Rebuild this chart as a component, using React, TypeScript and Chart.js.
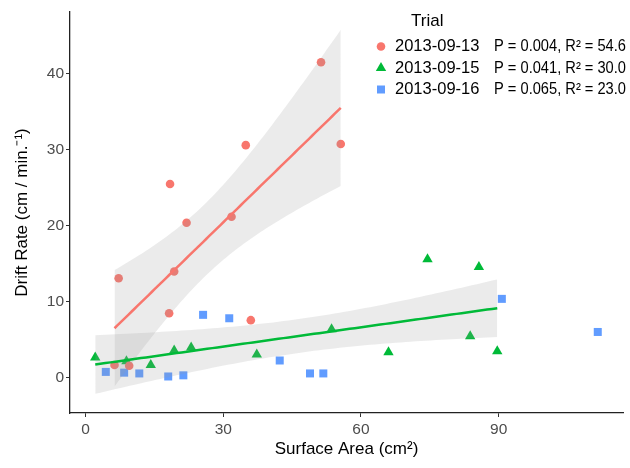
import React, { useEffect, useRef } from "react";
import { Chart, registerables } from "chart.js";

Chart.register(...registerables);

// ---- Data ----
const seriesNames = ["2013-09-13", "2013-09-15", "2013-09-16"];
const seriesStats = ["P = 0.004, R² = 54.6", "P = 0.041, R² = 30.0", "P = 0.065, R² = 23.0"];
const seriesColors = ["#F8766D", "#00BA38", "#619CFF"];
const seriesShapes = ["circle", "triangle", "rect"];
const seriesFitted = [true, true, false];

const area13 = [51.3, 55.6, 34.9, 18.4, 22.0, 31.8, 7.2, 19.3, 18.2, 36.0, 6.3, 9.5];
const rate13 = [41.5, 30.75, 30.6, 25.5, 20.4, 21.2, 13.1, 14.0, 8.5, 7.6, 1.7, 1.6];

const area15 = [2.1, 8.9, 14.2, 19.3, 23.0, 37.3, 53.6, 74.5, 85.7, 66.0, 83.8, 89.7];
const rate15 = [2.7, 2.2, 1.7, 3.6, 4.0, 3.1, 6.4, 15.6, 14.6, 3.4, 5.5, 3.5];

const area16 = [4.4, 8.4, 11.7, 18.0, 21.3, 25.6, 31.3, 42.3, 48.9, 51.8, 90.7, 111.6];
const rate16 = [0.8, 0.7, 0.6, 0.2, 0.35, 8.3, 7.85, 2.3, 0.6, 0.6, 10.4, 6.05];

const xTicks = [0, 30, 60, 90];
const yTicks = [0, 10, 20, 30, 40];

const legendTitle = "Trial";
const xTitle = "Surface Area (cm²)";
const yTitle = "Drift Rate (cm / min.⁻¹)";

const seriesX = [area13, area15, area16];
const seriesY = [rate13, rate15, rate16];

const FONT = "'Liberation Sans', Arial, Helvetica, sans-serif";
const BAND_FILL = "rgba(153,153,153,0.2)";
const Z95 = 1.959964;

// Linear least-squares fit with normal-approximation confidence band
function fitBand(xs: number[], ys: number[], steps = 80) {
  const n = xs.length;
  const xbar = xs.reduce((a, b) => a + b, 0) / n;
  const ybar = ys.reduce((a, b) => a + b, 0) / n;
  let sxx = 0, sxy = 0;
  for (let i = 0; i < n; i++) {
    sxx += (xs[i] - xbar) ** 2;
    sxy += (xs[i] - xbar) * (ys[i] - ybar);
  }
  const slope = sxy / sxx;
  const intercept = ybar - slope * xbar;
  let ssr = 0;
  for (let i = 0; i < n; i++) ssr += (ys[i] - (intercept + slope * xs[i])) ** 2;
  const s = Math.sqrt(ssr / (n - 2));
  const xmin = Math.min(...xs), xmax = Math.max(...xs);
  const line: { x: number; y: number }[] = [];
  const upper: { x: number; y: number }[] = [];
  const lower: { x: number; y: number }[] = [];
  for (let k = 0; k < steps; k++) {
    const x = xmin + ((xmax - xmin) * k) / (steps - 1);
    const yhat = intercept + slope * x;
    const se = s * Math.sqrt(1 / n + (x - xbar) ** 2 / sxx);
    line.push({ x, y: yhat });
    upper.push({ x, y: yhat + Z95 * se });
    lower.push({ x, y: yhat - Z95 * se });
  }
  return { line, upper, lower };
}

function drawMarker(ctx: CanvasRenderingContext2D, shape: string, x: number, y: number, color: string) {
  ctx.save();
  ctx.fillStyle = color;
  ctx.beginPath();
  if (shape === "circle") {
    ctx.arc(x, y, 4.3, 0, Math.PI * 2);
  } else if (shape === "triangle") {
    const r = 6;
    ctx.moveTo(x, y - r);
    ctx.lineTo(x + r * Math.sin((2 * Math.PI) / 3), y - r * Math.cos((2 * Math.PI) / 3));
    ctx.lineTo(x + r * Math.sin((4 * Math.PI) / 3), y - r * Math.cos((4 * Math.PI) / 3));
    ctx.closePath();
  } else {
    const h = 4;
    ctx.rect(x - h, y - h, 2 * h, 2 * h);
  }
  ctx.fill();
  ctx.restore();
}

const legendPlugin = {
  id: "insideLegend",
  afterDraw(chart: any) {
    const ctx: CanvasRenderingContext2D = chart.ctx;
    ctx.save();
    ctx.textBaseline = "middle";
    ctx.textAlign = "left";
    ctx.fillStyle = "#000";
    ctx.font = `17px ${FONT}`;
    ctx.fillText(legendTitle, 411, 21);
    for (let i = 0; i < seriesNames.length; i++) {
      const y = 46.5 + i * 21.5;
      drawMarker(ctx, seriesShapes[i], 381, y, seriesColors[i]);
      ctx.fillStyle = "#000";
      ctx.font = `16.5px ${FONT}`;
      ctx.fillText(seriesNames[i], 395, y);
      ctx.font = `16.5px ${FONT}`;
      ctx.fillText(seriesStats[i], 494, y, 132);
    }
    ctx.restore();
  },
};

export default function App() {
  const canvasRef = useRef<HTMLCanvasElement | null>(null);

  useEffect(() => {
    document.body.style.margin = "0";
    const canvas = canvasRef.current;
    if (!canvas) return;

    const pointSets: any[] = seriesNames.map((name, i) => ({
      type: "scatter",
      label: name,
      data: seriesX[i].map((x, k) => ({ x, y: seriesY[i][k] })),
      backgroundColor: seriesColors[i],
      borderColor: seriesColors[i],
      borderWidth: 0,
      pointStyle: seriesShapes[i],
      pointRadius: seriesShapes[i] === "circle" ? 4.3 : seriesShapes[i] === "triangle" ? 6 : 5.66,
      order: 3,
    }));

    const bandSets: any[] = [];
    const lineSets: any[] = [];
    seriesNames.forEach((name, i) => {
      if (!seriesFitted[i]) return;
      const fit = fitBand(seriesX[i], seriesY[i]);
      bandSets.push({
        type: "line",
        label: name + " upper",
        data: fit.upper,
        showLine: true,
        borderWidth: 0,
        borderColor: "rgba(0,0,0,0)",
        backgroundColor: BAND_FILL,
        pointRadius: 0,
        fill: "+1",
        order: 2,
      });
      bandSets.push({
        type: "line",
        label: name + " lower",
        data: fit.lower,
        showLine: true,
        borderWidth: 0,
        borderColor: "rgba(0,0,0,0)",
        backgroundColor: BAND_FILL,
        pointRadius: 0,
        fill: false,
        order: 2,
      });
      lineSets.push({
        type: "line",
        label: name + " fit",
        data: fit.line,
        showLine: true,
        borderWidth: 2.5,
        borderColor: seriesColors[i],
        pointRadius: 0,
        fill: false,
        order: 1,
      });
    });

    const chart = new Chart(canvas, {
      type: "scatter",
      data: { datasets: [...pointSets, ...bandSets, ...lineSets] },
      options: {
        animation: false,
        responsive: false,
        maintainAspectRatio: false,
        layout: { padding: { top: 12, right: 7, left: 0, bottom: 0 } },
        plugins: { legend: { display: false }, tooltip: { enabled: false } },
        scales: {
          x: {
            type: "linear",
            min: -3.4,
            max: 117.1,
            afterBuildTicks: (s: any) => {
              s.ticks = xTicks.map((v) => ({ value: v }));
            },
            afterFit: (s: any) => {
              s.height = 55;
            },
            grid: { drawOnChartArea: false, drawTicks: true, tickLength: 4, color: "#333", lineWidth: 1 },
            border: { display: true, color: "#222", width: 1.3 },
            ticks: {
              color: "#4d4d4d",
              font: { family: FONT, size: 15.5 },
              padding: 3,
              maxRotation: 0,
              autoSkip: false,
            },
            title: {
              display: true,
              text: xTitle,
              color: "#000",
              font: { family: FONT, size: 17 },
              padding: { top: 0, bottom: 8.8 },
            },
          },
          y: {
            type: "linear",
            min: -4.6,
            max: 48.1,
            afterBuildTicks: (s: any) => {
              s.ticks = yTicks.map((v) => ({ value: v }));
            },
            afterFit: (s: any) => {
              s.width = 70;
            },
            grid: { drawOnChartArea: false, drawTicks: true, tickLength: 4, color: "#333", lineWidth: 1 },
            border: { display: true, color: "#222", width: 1.3 },
            ticks: {
              color: "#4d4d4d",
              font: { family: FONT, size: 15.5 },
              padding: 2,
              autoSkip: false,
            },
            title: {
              display: true,
              text: yTitle,
              color: "#000",
              font: { family: FONT, size: 17 },
              padding: { top: 11.8, bottom: 0 },
            },
          },
        },
      } as any,
      plugins: [legendPlugin],
    });

    return () => chart.destroy();
  }, []);

  return (
    <div style={{ width: 630, height: 468 }}>
      <canvas ref={canvasRef} width={630} height={468} style={{ display: "block", width: 630, height: 468 }} />
    </div>
  );
}
